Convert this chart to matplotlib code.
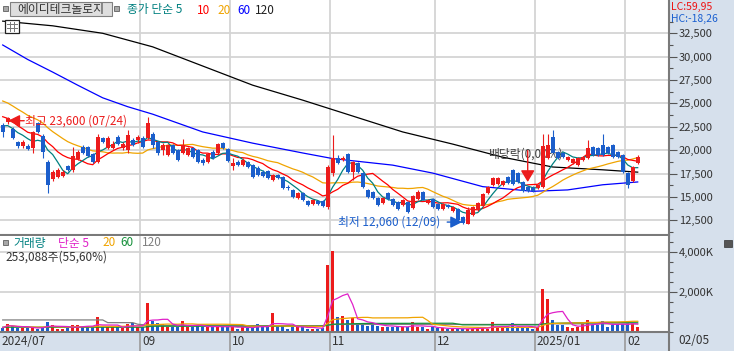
import numpy as np
import pandas as pd
import matplotlib
matplotlib.use('Agg')
import matplotlib.pyplot as plt
from matplotlib.ticker import FixedLocator, FuncFormatter
from matplotlib.patches import Rectangle
from matplotlib.lines import Line2D
import matplotlib.transforms as mtrans

plt.rcParams['font.family'] = ['Noto Sans CJK KR', 'DejaVu Sans']

# 일봉 (2024/07/23 ~ 2025/02/05), 거래일 순서
opens = [22700, 23000, 22250, 20850, 20450, 20450, 20250, 22900, 21500, 18750,
         16900, 17150, 17250, 18300, 17900, 19050, 20350, 20350, 19600, 18750,
         21300, 20250, 20250, 21400, 20250, 20000, 21100, 21100, 21300, 21300,
         21750, 20850, 20000, 19500, 20550, 20000, 19700, 19500, 20250, 20000,
         18950, 18750, 19800, 19700, 20750, 20150, 18300, 18750, 18400, 18750,
         18400, 18100, 17650, 17750, 16800, 17350, 17150, 16050, 15750, 14900,
         15400, 14550, 14250, 14550, 14550, 13900, 17550, 19150, 18950, 19600,
         17650, 18650, 17550, 15750, 15550, 14900, 14350, 15400, 14800, 14450,
         14150, 14450, 13800, 14800, 15550, 14350, 14800, 14250, 13700, 14150,
         13500, 13700, 12850, 12150, 13050, 13600, 14050, 15400, 16300, 16400,
         16300, 17150, 17900, 17550, 16600, 16050, 15950, 15950, 16050, 19150,
         21400, 19800, 19700, 18950, 18650, 18400, 18950, 19150, 20350, 20250,
         20550, 20350, 20550, 19800, 19500, 17550, 16700, 18650]
highs = [22900, 23600, 22500, 21000, 21100, 20650, 22050, 23000, 21750, 18950,
         17900, 18100, 17900, 18400, 20350, 20000, 20550, 20450, 19700, 21750,
         21400, 21500, 20950, 21600, 20850, 22150, 21300, 21600, 21500, 23550,
         21950, 21000, 20750, 20650, 20650, 20150, 21200, 20350, 20350, 20150,
         19150, 19700, 20000, 20750, 20850, 20250, 19150, 18950, 19150, 18850,
         18500, 18300, 17900, 17900, 17450, 17450, 17250, 16250, 15850, 15500,
         15500, 14650, 14800, 14650, 14650, 18400, 21600, 19500, 19400, 19700,
         18850, 18750, 17650, 15850, 15650, 15000, 15000, 15550, 14900, 14550,
         14800, 14550, 15200, 15750, 15650, 14800, 14900, 14350, 14350, 14250,
         14050, 13800, 12950, 13900, 14050, 14450, 15400, 16150, 17150, 17150,
         16800, 17250, 18000, 17650, 16700, 16150, 16150, 16400, 21750, 21750,
         22150, 19900, 19800, 19400, 19150, 19250, 19400, 21100, 20450, 20350,
         21750, 20450, 20650, 19900, 19600, 17650, 18300, 19500]
lows = [21400, 22800, 21200, 20250, 20250, 20000, 19700, 21850, 19150, 15400,
        16700, 17000, 17150, 17750, 17650, 18950, 19600, 19250, 18650, 18650,
        20750, 20150, 20150, 20550, 20000, 19700, 20450, 20750, 20250, 21200,
        20250, 19500, 19500, 19400, 19600, 18850, 19600, 19400, 19150, 18650,
        18400, 18650, 19050, 19600, 20150, 18750, 17900, 18300, 18300, 18100,
        17000, 17250, 17150, 16900, 16700, 16900, 15850, 15750, 14900, 14800,
        14550, 14050, 14150, 14150, 13900, 13700, 17250, 18500, 18850, 17550,
        16800, 17550, 15950, 14900, 14800, 14050, 14250, 14650, 14050, 13600,
        14050, 13300, 13700, 14650, 14650, 14250, 13800, 13600, 13600, 13800,
        13400, 12450, 12060, 12100, 12950, 13500, 13900, 15300, 16150, 16300,
        16150, 16400, 16300, 16500, 15550, 15550, 15550, 15850, 15950, 19050,
        19600, 19050, 19150, 18850, 18500, 18300, 18850, 19050, 19400, 19400,
        19400, 19600, 19150, 19150, 17550, 15950, 16600, 18500]
closes = [21950, 23450, 21300, 20450, 20850, 20100, 21950, 21950, 19800, 16300,
          17650, 17900, 17650, 17900, 19400, 19800, 19700, 19400, 18750, 21400,
          20850, 21300, 20650, 20650, 20650, 21600, 20550, 21400, 20350, 22900,
          20550, 19700, 20550, 20550, 19700, 18950, 20550, 20250, 19250, 18750,
          18650, 19600, 19150, 20650, 20250, 18850, 18650, 18400, 18950, 18200,
          17150, 17350, 17250, 17000, 17350, 17000, 15950, 15950, 15000, 15400,
          14650, 14150, 14650, 14250, 14050, 18200, 19150, 18650, 19150, 17650,
          18750, 17650, 16050, 15000, 14900, 14150, 14900, 14800, 14150, 13700,
          14650, 13400, 15100, 15550, 14650, 14650, 13900, 13700, 14250, 13900,
          13900, 12550, 12200, 13600, 13900, 14350, 15300, 16050, 17050, 17050,
          16700, 16500, 16400, 16600, 15650, 15650, 15650, 16300, 20450, 20550,
          19700, 19150, 19250, 19250, 19050, 19150, 19250, 20250, 19500, 19500,
          19500, 19700, 19250, 19250, 17650, 16250, 18200, 19300]
# 화면 이전 19일 종가 (이동평균 시작값용)
prior_close = [27800, 27600, 27300, 27100, 27000, 26900, 26700, 26500, 26300, 26200,
               25300, 24900, 24600, 24200, 23800, 23300, 22900, 22600, 22250]

# 거래량 (천주)
volume_k = [200, 380, 280, 180, 200, 200, 180, 150, 250, 480,
            320, 130, 130, 200, 330, 330, 250, 230, 230, 720,
            230, 250, 220, 220, 200, 370, 420, 220, 250, 1450,
            550, 450, 380, 250, 250, 250, 550, 250, 250, 280,
            250, 230, 250, 250, 250, 250, 220, 150, 250, 180,
            220, 370, 220, 250, 920, 250, 320, 130, 250, 250,
            250, 150, 150, 120, 170, 3340, 4040, 720, 780, 580,
            670, 450, 450, 280, 380, 280, 250, 250, 250, 250,
            220, 220, 480, 250, 250, 130, 220, 180, 170, 120,
            120, 170, 150, 150, 150, 150, 250, 150, 480, 200,
            200, 250, 420, 250, 220, 220, 130, 250, 2140, 1640,
            580, 350, 350, 230, 180, 250, 380, 580, 350, 320,
            530, 250, 350, 370, 370, 450, 455, 253]

# 장기 이동평균 (화면에서 읽은 값)
ma60_idx = [0, 5, 10, 15, 20, 25, 30, 40, 50, 60, 66, 78, 86, 96, 106, 113, 120, 127]
ma60_val = [31250, 29700, 28350, 26950, 25600, 24650, 23850, 21950, 20750, 19700, 19100,
            18400, 17550, 16100, 15600, 15750, 16300, 16600]
ma120_idx = [0, 10, 20, 30, 40, 50, 60, 70, 80, 90, 100, 110, 120, 127]
ma120_val = [33800, 33300, 32500, 31050, 29000, 26950, 25350, 23650, 21950, 20650,
             19250, 18200, 17900, 17650]
vma60_idx = [0, 28, 30, 64, 66, 73, 90, 92, 107, 109, 115, 127]
vma60_val = [220, 220, 270, 270, 370, 410, 420, 340, 340, 410, 440, 470]
vma120_idx = [0, 20, 21, 26, 27, 30, 64, 66, 107, 109, 127]
vma120_val = [585, 585, 450, 450, 370, 300, 300, 360, 360, 390, 390]

month_pos = [27.5, 45.5, 65.5, 86.5, 106.5, 124.5]
month_lab = ['09', '10', '11', '12', '2025/01', '02']
price_ticks = [12500, 15000, 17500, 20000, 22500, 25000, 27500, 30000, 32500]

RED = '#ec1c1c'
BLUE = '#1b5ecb'
TEAL = '#008080'
ORANGE = '#f0a400'
W, H = 734, 351


def fx(x):
    return x / W


def fy(y):
    return 1 - y / H


n = len(closes)
idx = np.arange(n)
o = np.array(opens); c = np.array(closes)
hi = np.array(highs); lo = np.array(lows)
up = c >= o
cols = np.where(up, RED, BLUE)

allc = pd.Series(prior_close + closes)
ma5 = allc.rolling(5).mean().values[-n:]
ma10 = allc.rolling(10).mean().values[-n:]
ma20 = allc.rolling(20).mean().values[-n:]
vol = pd.Series(volume_k)
vma5 = vol.rolling(5, min_periods=1).mean().values
vma20 = vol.rolling(20, min_periods=1).mean().values

fig = plt.figure(figsize=(W / 100, H / 100), dpi=100)
fig.patch.set_facecolor('#d6e0ec')

ax = fig.add_axes([0, fy(235), fx(669), 235 / H])
axv = fig.add_axes([0, fy(332), fx(669), 96 / H], sharex=ax)
for a in (ax, axv):
    a.set_facecolor('white')
    a.spines['top'].set_visible(False)
    a.spines['left'].set_visible(False)
    a.spines['right'].set_color('#7a7a7a')
    a.spines['right'].set_linewidth(1.5)
    a.spines['bottom'].set_color('#7a7a7a')
    a.spines['bottom'].set_linewidth(1.5)
    a.yaxis.tick_right()
    a.tick_params(axis='x', bottom=False, labelbottom=False)
    a.tick_params(axis='y', which='major', direction='out', length=6, width=0.8,
                  color='#555555', labelsize=8, labelcolor='#333333', pad=1)
    a.tick_params(axis='y', which='minor', direction='out', length=3, width=0.8,
                  color='#555555')
    for p in month_pos:
        a.axvline(p, color='#d4d4d4', lw=1.3, zorder=0)

ax.set_xlim(-0.54, 133.26)
ax.set_ylim(10928, 36061)
ax.yaxis.set_major_locator(FixedLocator(price_ticks))
ax.yaxis.set_minor_locator(FixedLocator(np.arange(11250, 35000, 1250)))
ax.yaxis.set_major_formatter(FuncFormatter(lambda v, p: f'{v:,.0f}'))
for v in price_ticks:
    ax.axhline(v, color='#d4d4d4', lw=1.3, zorder=0)

# 이동평균
ax.plot(ma120_idx, ma120_val, color='black', lw=0.9, zorder=2)
ax.plot(ma60_idx, ma60_val, color='#0000ff', lw=0.9, zorder=2)
ax.plot(idx, ma20, color=ORANGE, lw=0.9, zorder=2)
ax.plot(idx, ma10, color='#ff0000', lw=0.9, zorder=2)
ax.plot(idx, ma5, color=TEAL, lw=0.9, zorder=2)

# 캔들
ax.vlines(idx, lo, hi, colors=cols, lw=0.8, zorder=3)
body = np.maximum(np.abs(c - o), 40)
ax.bar(idx, body, bottom=np.minimum(o, c), width=0.75, color=cols, zorder=4, linewidth=0)

# 최고 / 최저 / 배당락
imax = int(np.argmax(hi)); imin = int(np.argmin(lo))
ax.annotate('', xy=(imax + 0.1, hi[imax] - 450), xytext=(imax + 3.3, hi[imax] - 450),
            arrowprops=dict(arrowstyle='-|>,head_width=0.35,head_length=0.7', color=RED,
                            lw=1, mutation_scale=10, shrinkA=0, shrinkB=0), zorder=6)
ax.text(imax + 3.5, hi[imax] - 450, '최고 23,600 (07/24)', color=RED, fontsize=8.5,
        va='center', ha='left', zorder=6)
ax.annotate('', xy=(imin - 0.1, lo[imin] + 250), xytext=(imin - 3.1, lo[imin] + 250),
            arrowprops=dict(arrowstyle='-|>,head_width=0.35,head_length=0.7', color=BLUE,
                            lw=1, mutation_scale=10, shrinkA=0, shrinkB=0), zorder=6)
ax.text(imin - 4.4, lo[imin] + 250, '최저 12,060 (12/09)', color=BLUE, fontsize=8.5,
        va='center', ha='right', zorder=6)
ax.text(97.1, 19590, '배당락(0,00%)', color='#404040', fontsize=8.5, va='center',
        ha='left', zorder=3.5)
ax.annotate('', xy=(105, 16600), xytext=(105, 19950),
            arrowprops=dict(arrowstyle='-|>,head_width=0.3,head_length=0.5', color=RED,
                            lw=1, mutation_scale=14, shrinkA=0, shrinkB=0), zorder=6)

# 거래량
axv.set_ylim(-20, 4795)
axv.yaxis.set_major_locator(FixedLocator([2000, 4000]))
axv.yaxis.set_minor_locator(FixedLocator(np.arange(0, 4600, 500)))
axv.yaxis.set_major_formatter(FuncFormatter(lambda v, p: f'{v:,.0f}K'))
for v in (2000, 4000):
    axv.axhline(v, color='#d4d4d4', lw=1.3, zorder=0)
axv.bar(idx, volume_k, width=0.6, color=cols, linewidth=0, zorder=2)
axv.plot(vma120_idx, vma120_val, color='#808080', lw=0.9, zorder=3)
axv.plot(vma60_idx, vma60_val, color='#15903a', lw=0.9, zorder=3)
axv.plot(idx, vma20, color=ORANGE, lw=0.9, zorder=3)
axv.plot(idx, vma5, color='#e020c8', lw=0.9, zorder=3)

# 날짜 축
tr = mtrans.blended_transform_factory(axv.transData, axv.transAxes)
for p, lab in zip(month_pos, month_lab):
    axv.axvline(p, ymin=-0.2, ymax=0, color='#9a9a9a', lw=1.2, clip_on=False)
    axv.text(p + 0.35, -0.095, lab, transform=tr, fontsize=8.5, color='#333333',
             va='center', ha='left')
axv.text(-0.15, -0.095, '2024/07', transform=tr, fontsize=8.5, color='#333333',
         va='center', ha='left')
fig.text(fx(678), fy(341), '02/05', fontsize=8.5, color='#333333', va='center')
fig.add_artist(Line2D([fx(669), fx(669)], [fy(332), fy(351)], color='#7a7a7a', lw=1.5))

# 상단 범례
fig.add_artist(Rectangle((fx(3), fy(11)), fx(5), 5 / H, fc='#a8a8a8', ec='#606060', lw=0.6))
fig.add_artist(Rectangle((fx(10), fy(16)), fx(102), 14 / H, fc='#dedede', ec='#808080', lw=0.8))
fig.text(fx(61), fy(9), '에이디테크놀로지', fontsize=8.5, color='#333333', ha='center', va='center')
fig.add_artist(Rectangle((fx(114), fy(11)), fx(5), 5 / H, fc='#a8a8a8', ec='#606060', lw=0.6))
for x, t, col in [(127, '종가 단순 5', TEAL), (197, '10', '#ff0000'), (217, '20', ORANGE),
                  (237, '60', '#0000ff'), (255, '120', '#202020')]:
    fig.text(fx(x), fy(10), t, fontsize=8.5, color=col, va='center')
fig.text(fx(671), fy(6.5), 'LC:59,95', fontsize=7.5, color='#ee1111', va='center')
fig.text(fx(671), fy(18.5), 'HC:-18,26', fontsize=7.5, color='#1a5fd0', va='center')

# 표 아이콘
fig.add_artist(Rectangle((fx(5), fy(33)), fx(14), 13 / H, fc='white', ec='#222222', lw=0.9))
for yy in (24, 28):
    fig.add_artist(Line2D([fx(7), fx(17)], [fy(yy), fy(yy)], color='#777777', lw=0.7))
for xx in (10, 14):
    fig.add_artist(Line2D([fx(xx), fx(xx)], [fy(22), fy(31)], color='#777777', lw=0.7))

# 거래량 범례
fig.add_artist(Rectangle((fx(3), fy(245)), fx(5), 5 / H, fc='#a8a8a8', ec='#606060', lw=0.6))
for x, t, col in [(13, '거래량', TEAL), (58, '단순 5', '#e020c8'), (102, '20', ORANGE),
                  (120, '60', '#15903a'), (142, '120', '#808080')]:
    fig.text(fx(x), fy(243), t, fontsize=8.5, color=col, va='center')
fig.text(fx(5), fy(257), '253,088주(55,60%)', fontsize=8.5, color='#333333', va='center')
fig.add_artist(Rectangle((fx(724), fy(247)), fx(8), 7 / H, fc='#555555', ec='#333333', lw=0.5))

fig.savefig('out.png', dpi=100, facecolor=fig.get_facecolor())
